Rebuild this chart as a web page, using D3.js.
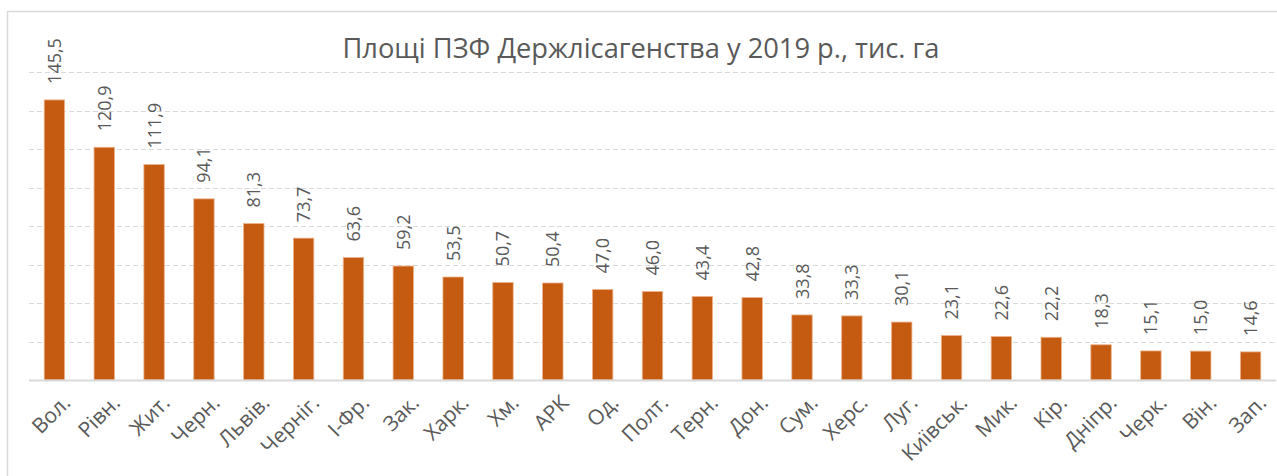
<!DOCTYPE html>
<html>
<head>
<meta charset="utf-8">
<script src="https://cdn.jsdelivr.net/npm/d3@7"></script>
<style>
  html, body { margin: 0; padding: 0; background: #fff; overflow: hidden; }
  text { font-family: "Open Sans", "Noto Sans", sans-serif; fill: #595959; }
</style>
</head>
<body>
<div id="chart"></div>
<script>
// Площі ПЗФ Держлісагенства у 2019 р., тис. га — bar chart by region
const regions = ['Вол.', 'Рівн.', 'Жит.', 'Черн.', 'Львів.', 'Черніг.', 'І-Фр.', 'Зак.', 'Харк.', 'Хм.',
  'АРК', 'Од.', 'Полт.', 'Терн.', 'Дон.', 'Сум.', 'Херс.', 'Луг.', 'Київськ.', 'Мик.',
  'Кір.', 'Дніпр.', 'Черк.', 'Він.', 'Зап.'];
const areas = [145.5, 120.9, 111.9, 94.1, 81.3, 73.7, 63.6, 59.2, 53.5, 50.7,
  50.4, 47.0, 46.0, 43.4, 42.8, 33.8, 33.3, 30.1, 23.1, 22.6,
  22.2, 18.3, 15.1, 15.0, 14.6];
const yTicks = [0, 20, 40, 60, 80, 100, 120, 140, 160];
const title = 'Площі ПЗФ Держлісагенства у 2019 р., тис. га';

const W = 1277, H = 476;
const svg = d3.select('#chart').append('svg').attr('width', W).attr('height', H);

// outer chart frame (only top and left edges fall inside the picture)
svg.append('rect')
  .attr('x', 7.5).attr('y', 11.5).attr('width', 1400).attr('height', 600)
  .attr('fill', '#fff').attr('stroke', '#d9d9d9').attr('stroke-width', 1.5);

const x = d3.scaleBand().domain(regions).range([29.5, 1275.5])
  .paddingInner(0.59).paddingOuter(0.295);
const y = d3.scaleLinear().domain([0, 160]).range([380, 72]);

// dashed gridlines
svg.append('g').selectAll('line').data(yTicks.filter(d => d > 0)).join('line')
  .attr('x1', 29).attr('x2', 1274)
  .attr('y1', d => Math.round(y(d)) + 0.5).attr('y2', d => Math.round(y(d)) + 0.5)
  .attr('stroke', '#d9d9d9').attr('stroke-width', 1).attr('stroke-dasharray', '5,3');

// bars
svg.append('g').selectAll('rect').data(areas).join('rect')
  .attr('x', (d, i) => x(regions[i]))
  .attr('width', x.bandwidth())
  .attr('y', d => y(d))
  .attr('height', d => y(0) - y(d))
  .attr('fill', '#c55a11')
  .attr('stroke', '#eeb48c').attr('stroke-width', 0.8);

// baseline
svg.append('line')
  .attr('x1', 29).attr('x2', 1276).attr('y1', y(0) + 0.5).attr('y2', y(0) + 0.5)
  .attr('stroke', '#d9d9d9').attr('stroke-width', 2);

// value labels, rotated
const fmt = v => v.toFixed(1).replace('.', ',');
svg.append('g').selectAll('text').data(areas).join('text')
  .attr('transform', (d, i) => `translate(${x(regions[i]) + x.bandwidth() / 2},${y(d) - 16}) rotate(-90)`)
  .attr('dy', '0.36em')
  .attr('text-anchor', 'start')
  .style('font-size', '18px')
  .text(fmt);

// category labels at -45°
svg.append('g').selectAll('text').data(regions).join('text')
  .attr('transform', d => `translate(${x(d) + x.bandwidth() / 2 + 6},${393}) rotate(-45)`)
  .attr('text-anchor', 'end')
  .attr('dy', '0.75em')
  .style('font-size', '21px')
  .text(d => d);

// title
svg.append('text')
  .attr('x', 641).attr('y', 58)
  .attr('text-anchor', 'middle')
  .attr('textLength', 597).attr('lengthAdjust', 'spacingAndGlyphs')
  .style('font-size', '28px')
  .text(title);
</script>
</body>
</html>
